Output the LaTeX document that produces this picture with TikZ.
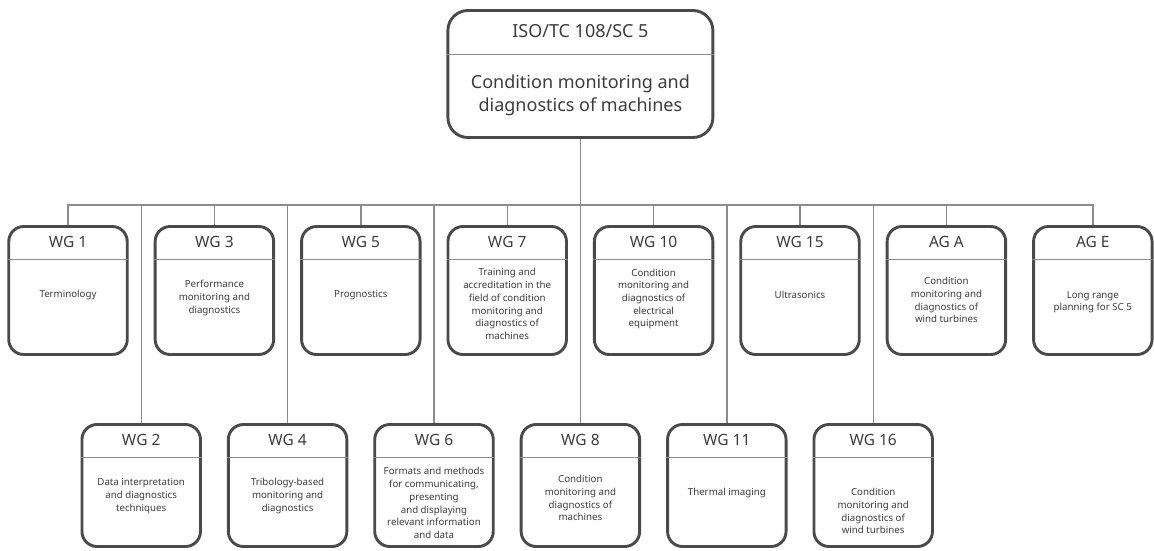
\documentclass[tikz,border=0pt]{standalone}
\usepackage{fontspec}
\setmainfont{Noto Sans}

\definecolor{framegray}{HTML}{4A4A4A}
\definecolor{linegray}{HTML}{8C8C8C}
\definecolor{textgray}{HTML}{3C3C3C}

\tikzset{
  wgframe/.style={draw=framegray, line width=2.9pt, rounded corners=15pt,
    minimum width=118.5pt, minimum height=128pt, inner sep=0pt},
  topframe/.style={wgframe, rounded corners=20pt, minimum width=265pt, minimum height=127pt},
  wgtitle/.style={text=textgray, font=\fontsize{15.5}{18}\selectfont, inner sep=0pt},
  wgtext/.style={text=textgray, font=\fontsize{9.7}{12.7}\selectfont, align=center, inner sep=0pt},
  divider/.style={linegray, line width=0.9pt},
  conn/.style={linegray, line width=1.4pt}
}

% one working group box: [text offset] name, position, title, text
\newcommand{\wgbox}[5][73]{%
  \node[wgframe] (#2) at #3 {};
  \node[wgtitle] (#2-title) at ([yshift=-17pt]#2.north) {#4};
  \draw[divider] ([yshift=-34pt]#2.north west) -- ([yshift=-34pt]#2.north east);
  \node[wgtext] (#2-text) at ([yshift=-#1pt]#2.north) {#5};
}

\begin{document}
\begin{tikzpicture}[x=1pt, y=-1pt]
  \useasboundingbox (0,0) rectangle (1154,550);

  % Sub-committee
  \node[topframe] (sc5) at (580.4,74) {};
  \node[wgtitle, font=\fontsize{18}{22}\selectfont] (sc5-title) at ([yshift=-22pt]sc5.north) {ISO/TC 108/SC 5};
  \draw[divider] ([yshift=-45pt]sc5.north west) -- ([yshift=-45pt]sc5.north east);
  \node[wgtext, font=\fontsize{18}{23}\selectfont] (sc5-text) at ([yshift=-86pt]sc5.north)
    {Condition monitoring and\\diagnostics of machines};

  % Upper row
  \wgbox[70]{wg1}{(68,290.5)}{WG 1}{Terminology}
  \wgbox{wg3}{(214.4,290.5)}{WG 3}{Performance\\monitoring and\\diagnostics}
  \wgbox[70]{wg5}{(360.8,290.5)}{WG 5}{Prognostics}
  \wgbox[79]{wg7}{(507.2,290.5)}{WG 7}{Training and\\accreditation in the\\field of condition\\monitoring and\\diagnostics of\\machines}
  \wgbox[74]{wg10}{(653.6,290.5)}{WG 10}{Condition\\monitoring and\\diagnostics of\\electrical\\equipment}
  \wgbox[70]{wg15}{(800,290.5)}{WG 15}{Ultrasonics}
  \wgbox[75]{aga}{(946.4,290.5)}{AG A}{Condition\\monitoring and\\diagnostics of\\wind turbines}
  \wgbox[77]{age}{(1092.8,290.5)}{AG E}{Long range\\planning for SC 5}

  % Lower row
  \begin{scope}[wgframe/.append style={minimum height=122pt}]
    \wgbox{wg2}{(141.2,485.5)}{WG 2}{Data interpretation\\and diagnostics\\techniques}
    \wgbox{wg4}{(287.6,485.5)}{WG 4}{Tribology-based\\monitoring and\\diagnostics}
    \wgbox[80]{wg6}{(434,485.5)}{WG 6}{Formats and methods\\for communicating,\\presenting\\and displaying\\relevant information\\and data}
    \wgbox[75]{wg8}{(580.4,485.5)}{WG 8}{Condition\\monitoring and\\diagnostics of\\machines}
    \wgbox[70]{wg11}{(726.8,485.5)}{WG 11}{Thermal imaging}
    \wgbox[88]{wg16}{(873.2,485.5)}{WG 16}{Condition\\monitoring and\\diagnostics of\\wind turbines}
  \end{scope}

  % Connectors
  \coordinate (bus) at (580.4,205);
  \draw[conn] (sc5.south) -- (bus);
  \foreach \n in {wg1,wg3,wg5,wg7,wg10,wg15,aga,age,wg2,wg4,wg6,wg8,wg11,wg16}
    \draw[conn] (\n.north) |- (bus);
\end{tikzpicture}
\end{document}
